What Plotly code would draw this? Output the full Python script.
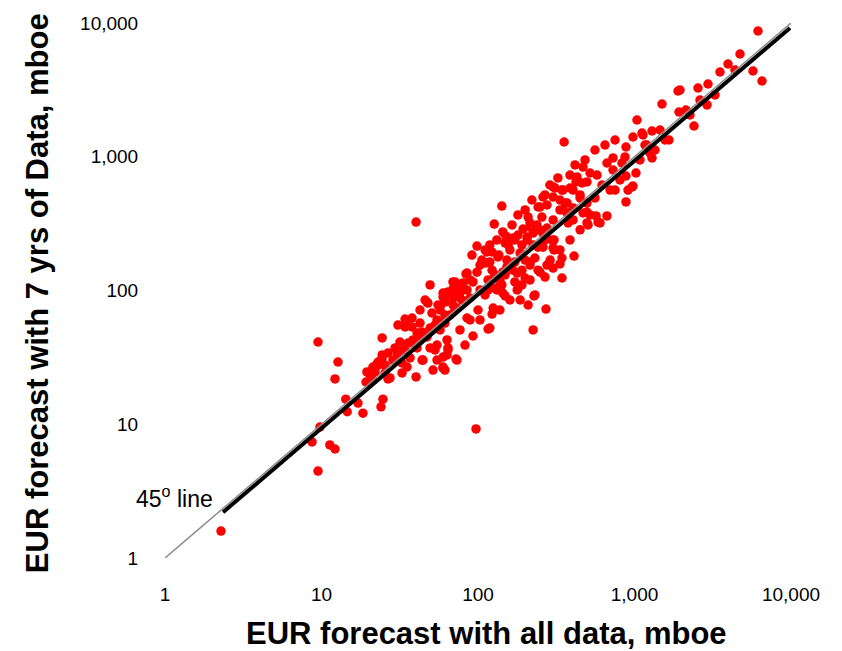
import plotly.graph_objects as go

# EUR forecast with all data (mboe) vs EUR forecast with 7 years of data (mboe)
eur_all = [
    2.28, 9.5, 9.5, 8.7, 11.3, 12.2, 9.78, 12.2, 14.3, 14.6, 17.1, 18.4, 24.7, 24.0, 26.6, 32.7, 40.2, 51.6, 61.5, 97.1,
    19.5, 21.3, 12.75, 19.25, 22.6, 24.4, 23.0, 24.4, 25.5, 27.4, 28.6, 30.8, 33.2, 32.7, 35.2, 36.8, 35.7, 34.7, 37.9, 42.6,
    43.9, 40.8, 47.2, 49.4, 49.4, 47.2, 50.8, 54.7, 57.2, 61.5, 57.2, 61.5, 59.8, 64.3, 69.2, 74.5, 73.4, 66.3, 85.1, 98.5,
    111, 100, 92.9, 116, 64.3, 59.8, 54.7, 59.8, 72.4, 43.9, 49.4, 54.7, 63.4, 31.7, 29.5, 26.6, 21.3, 20.4, 30.8, 40.8,
    38.4, 142, 127, 98.5, 111, 123, 151, 167, 156, 136, 153, 113, 71.3, 45.9, 59.8, 69.2, 80.2, 116, 132, 149,
    125, 209, 228, 272, 180, 200, 178, 215, 231, 249, 276, 334, 344, 411, 306, 306, 260, 225, 206, 194,
    215, 209, 242, 276, 302, 349, 334, 376, 405, 186, 167, 138, 144, 238, 123, 85.1, 69.2, 57.2, 119, 225,
    1037, 355, 978, 1117, 1294, 1456, 1202, 1294, 882, 729, 667, 832, 882, 1022, 964, 882, 576, 469, 423, 497,
    620, 559, 497, 449, 387, 311, 344, 371, 349, 249, 256, 215, 225, 276, 302, 405, 469, 505, 568, 667,
    585, 698, 909, 6154, 4722, 3958, 3518, 5717, 6527, 2949, 2545, 1953, 2906, 2134, 1924, 1499, 2400, 1662, 1133, 870,
    1256, 1167, 1897, 978, 602, 142, 40.2, 83.8, 47.9, 34.2, 34.2, 23.0, 24.4, 30.4, 44.5, 64.3, 63.4, 73.4, 59.8, 144,
    128, 231, 268, 302, 344, 289, 302, 242, 260, 297, 238, 180, 160, 134, 119, 106, 114, 149, 172, 206,
    191, 153, 191, 215, 242, 172, 215, 178, 191, 138, 123, 92.9, 85.1, 69.2, 57.2, 76.7, 111, 302, 260, 405,
    449, 497, 497, 360, 371, 462, 729, 429, 520,
    91.5, 103, 119, 132, 144, 165, 180, 200, 221, 268, 288, 324, 387, 483, 559, 648, 751, 417, 334, 268,
    249, 200, 172, 149, 128, 116, 103, 88.9, 79, 71.3, 61.5, 53.1, 45.9, 39.6, 34.2, 29.5, 25.5, 22.0, 76.7, 88.9,
    66.3, 55.5, 42.6, 37.9, 42.6, 53.1, 76.7, 88.9, 103, 82.6, 138, 160, 186, 334, 387, 449, 520, 751, 808, 1084,
    1352, 1567, 2263, 2621, 3269, 4387,
]
eur_7yr = [
    1.59, 41.2, 4.47, 7.37, 7.0, 6.53, 9.54, 21.8, 15.4, 12.4, 14.4, 12.1, 15.4, 13.5, 21.8, 24.2, 22.6, 25.4, 25.4, 9.22,
    24.6, 21.4, 29.2, 20.7, 28.2, 44.2, 27.7, 31.3, 24.2, 22.2, 30.2, 34.1, 35.9, 28.7, 26.8, 31.3, 40.5, 58.2, 53.4, 57.1,
    49.0, 48.1, 44.9, 52.4, 110, 82.0, 67.9, 60.2, 50.7, 57.1, 71.5, 82.0, 95.8, 97.5, 116, 89.4, 74.0, 65.6, 135, 137,
    161, 71.5, 45.7, 51.5, 35.9, 31.8, 30.2, 26.8, 30.7, 30.2, 37.2, 39.1, 42.7, 41.2, 37.2, 34.1, 26.8, 23.3, 55.2, 37.2,
    42.7, 428, 314, 215, 201, 194, 255, 247, 219, 184, 169, 161, 116, 84.9, 89.4, 103, 114, 101, 101, 91.0,
    74.0, 77.9, 91.0, 72.7, 103, 124, 135, 163, 175, 137, 155, 158, 124, 181, 201, 239, 211, 219, 251, 288,
    320, 354, 421, 436, 500, 564, 400, 320, 414, 191, 142, 114, 137, 309, 66.7, 62.3, 77.9, 58.2, 52.4, 50.7,
    1883, 1289, 1405, 1505, 1558, 1585, 1224, 979, 1183, 979, 898, 898, 718, 756, 594, 459, 730, 838, 648, 648,
    615, 492, 451, 518, 584, 584, 564, 451, 400, 421, 354, 298, 269, 293, 337, 337, 380, 309, 361, 361,
    325, 564, 564, 8714, 5864, 4937, 4302, 4377, 3684, 3499, 3266, 3156, 2438, 2236, 2161, 2480, 1698, 1334, 1454, 996,
    1067, 1224, 3102, 604, 320, 110, 325, 133, 80.6, 61.2, 53.4, 29.2, 33.0, 34.1, 30.2, 37.2, 33.0, 30.2, 26.3, 95.8,
    104, 92.6, 126, 147, 175, 169, 208, 211, 269, 239, 293, 260, 201, 178, 163, 169, 194, 227, 239, 239,
    219, 150, 142, 155, 142, 116, 120, 101, 110, 120, 142, 116, 101, 87.9, 75.3, 95.8, 92.6, 594, 500, 564,
    492, 386, 320, 451, 380, 637, 796, 706, 756,
    184, 155, 219, 239, 274, 309, 367, 400, 475, 518, 615, 694, 730, 946, 1123, 1224, 1334, 868, 475, 239,
    283, 169, 163, 131, 131, 120, 101, 87.9, 84.9, 71.5, 65.6, 55.2, 46.5, 39.1, 35.9, 30.2, 27.7, 24.6, 110, 120,
    92.6, 77.9, 71.5, 62.3, 42.7, 35.9, 50.7, 60.2, 60.2, 39.1, 71.5, 84.9, 84.9, 201, 239, 284, 367, 564, 670, 946,
    1123, 1334, 2052, 2657, 2895, 4452,
]

# reference lines
line45_x = [1, 10000]
line45_y = [1, 10000]
fit_x = [2.35, 9860]
fit_y = [2.2, 9180]

tick_vals = [1, 10, 100, 1000, 10000]
tick_text = ["1", "10", "100", "1,000", "10,000"]

FONT = "Liberation Sans, Arial, sans-serif"

fig = go.Figure()
fig.add_trace(go.Scatter(
    x=eur_all, y=eur_7yr, mode="markers",
    marker=dict(color="#FF0000", size=9.5, line=dict(width=0)),
    showlegend=False, hoverinfo="x+y",
))
fig.add_trace(go.Scatter(
    x=fit_x, y=fit_y, mode="lines",
    line=dict(color="#000000", width=4),
    showlegend=False, hoverinfo="skip",
))
fig.add_trace(go.Scatter(
    x=line45_x, y=line45_y, mode="lines",
    line=dict(color="#8C8C8C", width=1.5),
    showlegend=False, hoverinfo="skip",
))

fig.update_layout(
    width=842, height=651,
    margin=dict(l=165, r=51, t=23, b=93),
    paper_bgcolor="white", plot_bgcolor="white",
    font=dict(family=FONT, color="#000000"),
    xaxis=dict(
        type="log", range=[0, 4], tickvals=tick_vals, ticktext=tick_text,
        showgrid=False, zeroline=False, showline=False,
        ticks="outside", ticklen=19, tickcolor="rgba(0,0,0,0)",
        tickfont=dict(size=19, family=FONT, color="#000000"),
    ),
    yaxis=dict(
        type="log", range=[0, 4], tickvals=tick_vals, ticktext=tick_text,
        showgrid=False, zeroline=False, showline=False,
        ticks="outside", ticklen=22, tickcolor="rgba(0,0,0,0)",
        tickfont=dict(size=19, family=FONT, color="#000000"),
    ),
    annotations=[
        dict(text="<b>EUR forecast with all data, mboe</b>", xref="paper", yref="paper",
             x=0.514, y=-0.142, xanchor="center", yanchor="middle", showarrow=False,
             font=dict(size=31, family=FONT, color="#000000")),
        dict(text="<b>EUR forecast with 7 yrs of Data, mboe</b>", xref="paper", yref="paper",
             x=-0.2045, y=0.495, xanchor="center", yanchor="middle", showarrow=False,
             textangle=-90,
             font=dict(size=31, family=FONT, color="#000000")),
        dict(text="45<sup>o</sup> line", xref="paper", yref="paper",
             x=0.080, y=0.114, xanchor="right", yanchor="middle", showarrow=False,
             font=dict(size=23, family=FONT, color="#000000")),
    ],
)

fig.write_html(
    "out.html",
    config={"displayModeBar": False},
    post_script="document.body.style.margin='0';document.body.style.padding='0';",
)
